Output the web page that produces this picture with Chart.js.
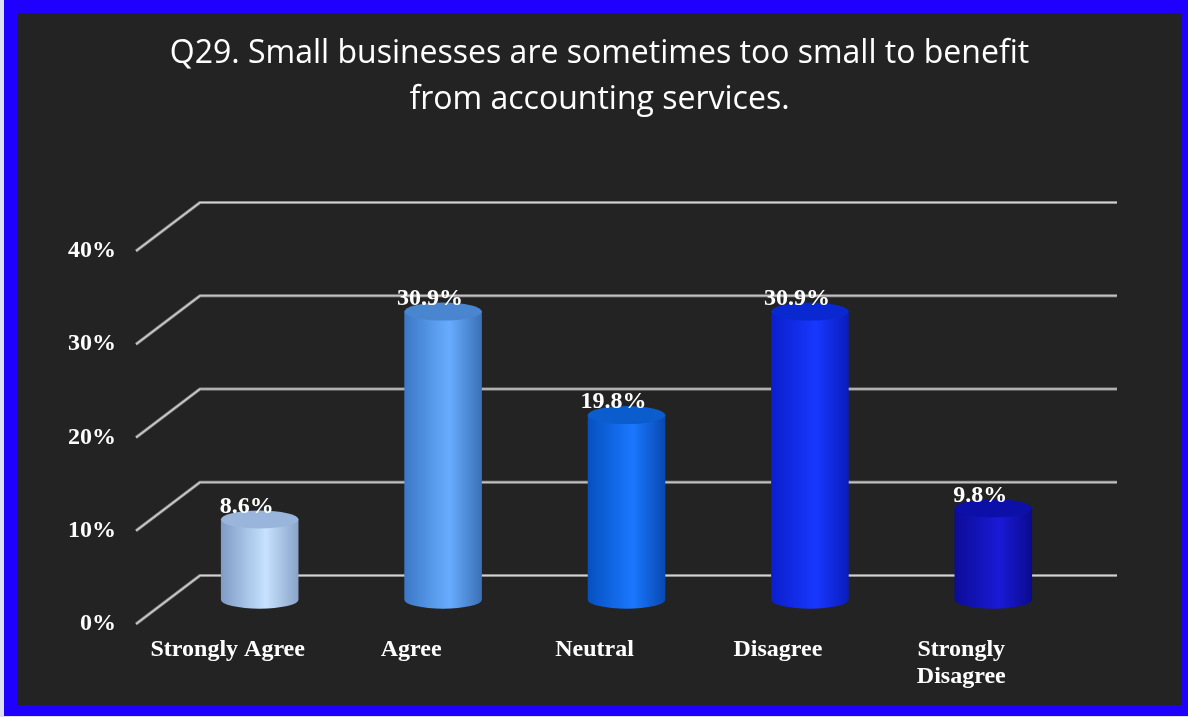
<!DOCTYPE html>
<html>
<head>
<meta charset="utf-8">
<title>Q29 survey responses</title>
<script src="https://cdn.jsdelivr.net/npm/chart.js@4.4.1/dist/chart.umd.min.js"></script>
<style>
  html, body { margin: 0; padding: 0; background: #dedff0; }
  #frame {
    position: absolute; left: 4px; top: 0;
    width: 1165px; height: 692px;
    border-style: solid; border-color: #1f00ff;
    border-width: 13px 6px 11px 13px;
    background: #232323;
  }
  canvas { display: block; }
</style>
</head>
<body>
<div id="frame"><canvas id="chart" width="1165" height="692"></canvas></div>
<script>
// Survey answers and their shares (percent of respondents)
const categories = ['Strongly Agree', 'Agree', 'Neutral', 'Disagree', ['Strongly', 'Disagree']];
const shares = [8.6, 30.9, 19.8, 30.9, 9.8];
const axisMax = 40;
const axisStep = 10;
const titleLines = [
  'Q29. Small businesses are sometimes too small to benefit',
  'from accounting services.'
];

// Cylinder shading: [left edge, highlight, right edge, top cap]
const palette = [
  ['#7f9bc6', '#c6e2ff', '#8aa3c8', '#9ab5dc'],
  ['#3c78c6', '#68acff', '#3a70b6', '#4a86d0'],
  ['#0650c0', '#1a78ff', '#0848b0', '#0b5ccc'],
  ['#0a1ecc', '#1838ff', '#0a1cbc', '#0a28d0'],
  ['#0c0c98', '#1a1ad6', '#0a0a8e', '#0c10a8']
];

const serif = '"Liberation Serif", "Times New Roman", serif';
const DEPTH_X = 64;     // horizontal shift from front plane to back wall
const DEPTH_Y = 48.5;   // vertical shift from front plane to back wall
const CAP_RY = 9;       // vertical radius of the cylinder caps

const cylinders = {
  id: 'cylinders',
  beforeDatasetsDraw(chart) {
    const { ctx, chartArea: a, scales: { y } } = chart;
    ctx.save();
    y.ticks.forEach(t => {
      const py = y.getPixelForValue(t.value);
      const path = () => {
        ctx.beginPath();
        ctx.moveTo(a.left, py);
        ctx.lineTo(a.left + DEPTH_X, py - DEPTH_Y);
        ctx.lineTo(a.right + DEPTH_X, py - DEPTH_Y);
      };
      ctx.lineJoin = 'round';
      ctx.strokeStyle = '#8e8e8e'; ctx.lineWidth = 3; path(); ctx.stroke();
      ctx.strokeStyle = '#d2d2d2'; ctx.lineWidth = 1.2; path(); ctx.stroke();
    });
    ctx.restore();
  },
  afterDatasetsDraw(chart) {
    const ctx = chart.ctx;
    const meta = chart.getDatasetMeta(0);
    meta.data.forEach((bar, i) => {
      const { x, y, base, width } = bar.getProps(['x', 'y', 'base', 'width'], true);
      const cx = x + DEPTH_X / 2;
      const top = y - DEPTH_Y / 2;
      const bot = base - DEPTH_Y / 2;
      const rx = width / 2;
      const [c0, c1, c2, cap] = palette[i];

      ctx.save();
      const g = ctx.createLinearGradient(cx - rx, 0, cx + rx, 0);
      g.addColorStop(0, c0);
      g.addColorStop(0.58, c1);
      g.addColorStop(1, c2);
      ctx.fillStyle = g;
      ctx.beginPath();
      ctx.moveTo(cx - rx, top);
      ctx.lineTo(cx - rx, bot);
      ctx.ellipse(cx, bot, rx, CAP_RY, 0, Math.PI, 0, true);
      ctx.lineTo(cx + rx, top);
      ctx.closePath();
      ctx.fill();

      ctx.fillStyle = cap;
      ctx.beginPath();
      ctx.ellipse(cx, top, rx, CAP_RY, 0, 0, Math.PI * 2);
      ctx.fill();

      ctx.fillStyle = '#ffffff';
      ctx.font = 'bold 24px ' + serif;
      ctx.textAlign = 'center';
      ctx.textBaseline = 'alphabetic';
      ctx.fillText(shares[i].toFixed(1) + '%', x + 19, y - 31);
      ctx.restore();
    });
  }
};

new Chart(document.getElementById('chart'), {
  type: 'bar',
  data: {
    labels: categories,
    datasets: [{
      data: shares,
      backgroundColor: 'rgba(0,0,0,0)',
      borderWidth: 0,
      barPercentage: 0.423,
      categoryPercentage: 1
    }]
  },
  options: {
    responsive: false,
    animation: false,
    layout: { padding: 0 },
    plugins: {
      legend: { display: false },
      tooltip: { enabled: false },
      title: {
        display: true,
        text: titleLines,
        color: '#ffffff',
        font: { family: '"Open Sans", sans-serif', size: 32, weight: 'normal', lineHeight: '46px' },
        padding: { top: 18, bottom: 128 }
      }
    },
    scales: {
      x: {
        grid: { display: false, drawTicks: false },
        border: { display: false },
        ticks: {
          color: '#ffffff',
          font: { family: serif, size: 24, weight: 'bold', lineHeight: 1.1 },
          padding: 13,
          maxRotation: 0,
          autoSkip: false
        },
        afterFit(s) { s.height = 81; }
      },
      y: {
        min: 0,
        max: axisMax,
        grid: { display: false, drawTicks: false },
        border: { display: false },
        ticks: {
          stepSize: axisStep,
          color: '#ffffff',
          font: { family: serif, size: 24, weight: 'bold' },
          padding: 20,
          callback: v => v + '%'
        },
        afterFit(s) { s.width = 119; }
      },
      // empty right-hand margin that leaves room for the back wall
      yRight: {
        position: 'right',
        min: 0,
        max: axisMax,
        grid: { display: false, drawTicks: false },
        border: { display: false },
        ticks: { display: false },
        afterFit(s) { s.width = 129; }
      }
    }
  },
  plugins: [cylinders]
});
</script>
</body>
</html>
